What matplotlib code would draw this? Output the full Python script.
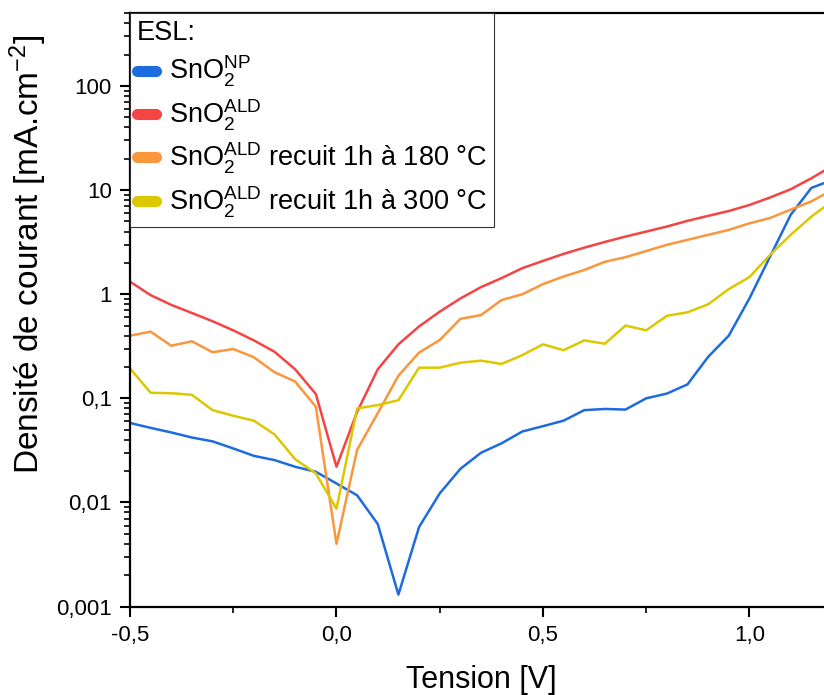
import numpy as np
import matplotlib
matplotlib.use("Agg")
import matplotlib.pyplot as plt
from matplotlib.lines import Line2D
from matplotlib.ticker import FixedLocator, FixedFormatter, LogLocator, NullFormatter

plt.rcParams['font.family'] = ['Liberation Sans', 'DejaVu Sans']
plt.rcParams['mathtext.fontset'] = 'custom'
plt.rcParams['mathtext.rm'] = 'Liberation Sans'
plt.rcParams['mathtext.it'] = 'Liberation Sans'

# tension (V), pas de 0.05
tension = np.round(np.arange(-0.5, 1.2001, 0.05), 2)

j_np = [0.058, 0.052, 0.047, 0.042, 0.0386, 0.033, 0.028, 0.0255, 0.022, 0.0197,
        0.0152, 0.0117, 0.0062, 0.0013, 0.0058, 0.0122, 0.021, 0.030, 0.037, 0.048,
        0.054, 0.061, 0.077, 0.079, 0.078, 0.100, 0.111, 0.136, 0.25, 0.40,
        0.91, 2.3, 5.8, 10.5, 12.5]
j_ald = [1.32, 0.98, 0.79, 0.66, 0.55, 0.45, 0.36, 0.28, 0.19, 0.11,
         0.022, 0.074, 0.19, 0.33, 0.49, 0.68, 0.91, 1.17, 1.43, 1.78,
         2.09, 2.44, 2.8, 3.18, 3.58, 4.0, 4.47, 5.07, 5.66, 6.3,
         7.2, 8.5, 10.2, 13.0, 17.0]
j_180 = [0.40, 0.437, 0.32, 0.353, 0.277, 0.298, 0.248, 0.178, 0.145, 0.083,
         0.004, 0.032, 0.072, 0.165, 0.275, 0.363, 0.58, 0.63, 0.88, 1.0,
         1.25, 1.48, 1.71, 2.05, 2.27, 2.6, 2.98, 3.33, 3.72, 4.15,
         4.8, 5.4, 6.5, 7.8, 10.0]
j_300 = [0.194, 0.113, 0.112, 0.108, 0.077, 0.068, 0.061, 0.045, 0.026, 0.019,
         0.0087, 0.080, 0.086, 0.096, 0.197, 0.197, 0.22, 0.23, 0.214, 0.26,
         0.33, 0.29, 0.36, 0.335, 0.50, 0.45, 0.62, 0.67, 0.80, 1.12,
         1.46, 2.39, 3.72, 5.57, 7.8]

series = [j_np, j_ald, j_180, j_300]
labels = [r'SnO$_\mathregular{2}^\mathregular{NP}$',
          r'SnO$_\mathregular{2}^\mathregular{ALD}$',
          r'SnO$_\mathregular{2}^\mathregular{ALD}$ recuit 1h à 180 °C',
          r'SnO$_\mathregular{2}^\mathregular{ALD}$ recuit 1h à 300 °C']
colors = ['#1E6BE0', '#F44444', '#FA963C', '#DCC800']

xticks = [-0.5, 0.0, 0.5, 1.0]
xticklabels = ['-0,5', '0,0', '0,5', '1,0']
yticks = [0.001, 0.01, 0.1, 1, 10, 100]
yticklabels = ['0,001', '0,01', '0,1', '1', '10', '100']

fig = plt.figure(figsize=(8.24, 6.95), dpi=100)
ax = fig.add_axes([130 / 824, 88.5 / 695, 702 / 824, 593.2 / 695])

for y, c in zip(series, colors):
    ax.plot(tension, y, color=c, lw=1.8)

ax.set_yscale('log')
ax.set_xlim(-0.5, 1.2)
ax.set_ylim(0.001, 500)

ax.xaxis.set_major_locator(FixedLocator(xticks))
ax.xaxis.set_major_formatter(FixedFormatter(xticklabels))
ax.xaxis.set_minor_locator(FixedLocator([-0.25, 0.25, 0.75]))
ax.yaxis.set_major_locator(FixedLocator(yticks))
ax.yaxis.set_major_formatter(FixedFormatter(yticklabels))
ax.yaxis.set_minor_locator(LogLocator(base=10, subs=np.arange(2, 10)))
ax.yaxis.set_minor_formatter(NullFormatter())

ax.tick_params(which='major', direction='out', length=7, width=1.5, labelsize=16, pad=6)
ax.tick_params(which='minor', direction='out', length=4, width=1.2)
for s in ax.spines.values():
    s.set_linewidth(1.6)
ax.spines['right'].set_visible(False)

ax.set_xlabel('Tension [V]', fontsize=22, labelpad=14)
ax.set_ylabel(r'Densité de courant [mA.cm$^\mathregular{-2}$]', fontsize=24)
ax.yaxis.set_label_coords(-0.115, 0.593)

handles = [Line2D([], [], color=c, lw=8, solid_capstyle='round') for c in colors]
leg = ax.legend(handles, labels, title='ESL:', loc='upper left', fontsize=19.5,
                title_fontsize=19.5, frameon=True, fancybox=False, framealpha=1,
                edgecolor='#333333', borderaxespad=0, handlelength=0.7,
                handletextpad=0.5, labelspacing=0.3, borderpad=0.25)
leg._legend_box.align = 'left'
leg.get_frame().set_linewidth(0.8)

fig.savefig('out.png', dpi=100)
